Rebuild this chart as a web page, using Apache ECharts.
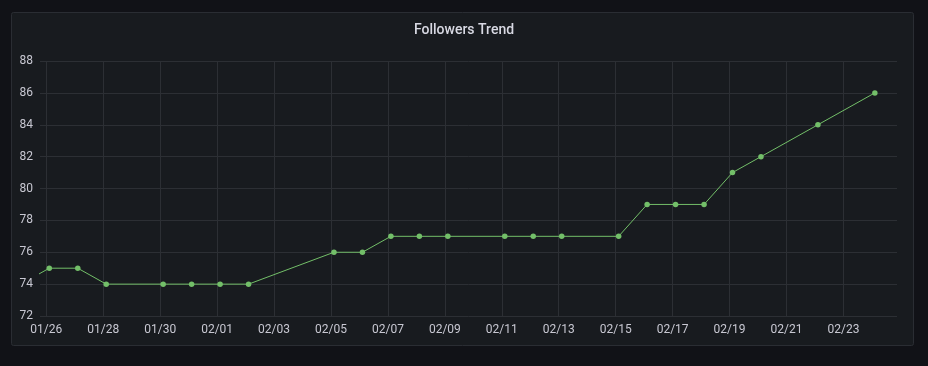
<!DOCTYPE html>
<html><head><meta charset="utf-8">
<script src="https://cdn.jsdelivr.net/npm/echarts@6/dist/echarts.min.js"></script>
<style>html,body{margin:0;padding:0;background:#111217;}#c{width:928px;height:366px;}</style>
</head><body><div id="c"></div>
<script>
const chartTitle = 'Followers Trend';
const pointTimes = ['2025-01-25 02:30','2025-01-26 02:30','2025-01-27 02:30','2025-01-28 02:30','2025-01-30 02:30','2025-01-31 02:30','2025-02-01 02:30','2025-02-02 02:30','2025-02-05 02:30','2025-02-06 02:30','2025-02-07 02:30','2025-02-08 02:30','2025-02-09 02:30','2025-02-11 02:30','2025-02-12 02:30','2025-02-13 02:30','2025-02-15 02:30','2025-02-16 02:30','2025-02-17 02:30','2025-02-18 02:30','2025-02-19 02:30','2025-02-20 02:30','2025-02-22 02:30','2025-02-24 02:30'];
const followers = [74,75,75,74,74,74,74,74,76,76,77,77,77,77,77,77,77,79,79,79,81,82,84,86];
const xTickDates = ['2025-01-26','2025-01-28','2025-01-30','2025-02-01','2025-02-03','2025-02-05','2025-02-07','2025-02-09','2025-02-11','2025-02-13','2025-02-15','2025-02-17','2025-02-19','2025-02-21','2025-02-23'];
const xRange = ['2025-01-25 18:40','2025-02-24 21:10'];
const yMin = 72, yMax = 88, yStep = 2;

function parseLocal(s){
  const [d,t] = s.split(' ');
  const [y,mo,da] = d.split('-').map(Number);
  const [h,mi] = (t||'00:00').split(':').map(Number);
  return new Date(y,mo-1,da,h,mi).getTime();
}
const tickVals = xTickDates.map(parseLocal);
const data = pointTimes.map((t,i)=>[parseLocal(t), followers[i]]);
const pad = n => String(n).padStart(2,'0');

const chart = echarts.init(document.getElementById('c'));
const textColor = '#c8c8d2';
const gridColor = '#2c2f34';
chart.setOption({
  backgroundColor: '#111217',
  animation: false,
  graphic: [{
    type: 'rect', left: 11, top: 12, z: -10,
    shape: {width: 902, height: 333, r: 2},
    style: {fill: '#181b1f', stroke: '#2a2d33', lineWidth: 1}
  }],
  title: {
    text: chartTitle, left: 'center', top: 18,
    textStyle: {color: '#d8d9e3', fontSize: 14, fontWeight: 500, fontFamily: 'Roboto'}
  },
  grid: {left: 40, right: 31, top: 61, bottom: 50, containLabel: false},
  xAxis: {
    type: 'value',
    min: parseLocal(xRange[0]), max: parseLocal(xRange[1]),
    axisLine: {show: false},
    axisTick: {show: false, customValues: tickVals},
    axisLabel: {
      customValues: tickVals,
      color: textColor, fontSize: 12, fontFamily: 'Roboto', margin: 8,
      formatter: v => { const d = new Date(v); return pad(d.getMonth()+1)+'/'+pad(d.getDate()); }
    },
    splitLine: {show: true, lineStyle: {color: gridColor, width: 1}}
  },
  yAxis: {
    type: 'value', min: yMin, max: yMax, interval: yStep,
    axisLine: {show: false}, axisTick: {show: false},
    axisLabel: {color: textColor, fontSize: 12, fontFamily: 'Roboto', margin: 7},
    splitLine: {show: true, lineStyle: {color: gridColor, width: 1}}
  },
  series: [{
    type: 'line', data: data,
    lineStyle: {color: '#73bf69', width: 1},
    itemStyle: {color: '#73bf69'},
    symbol: 'circle', symbolSize: 5.5, showSymbol: true,
    clip: true
  }]
});
</script></body></html>
